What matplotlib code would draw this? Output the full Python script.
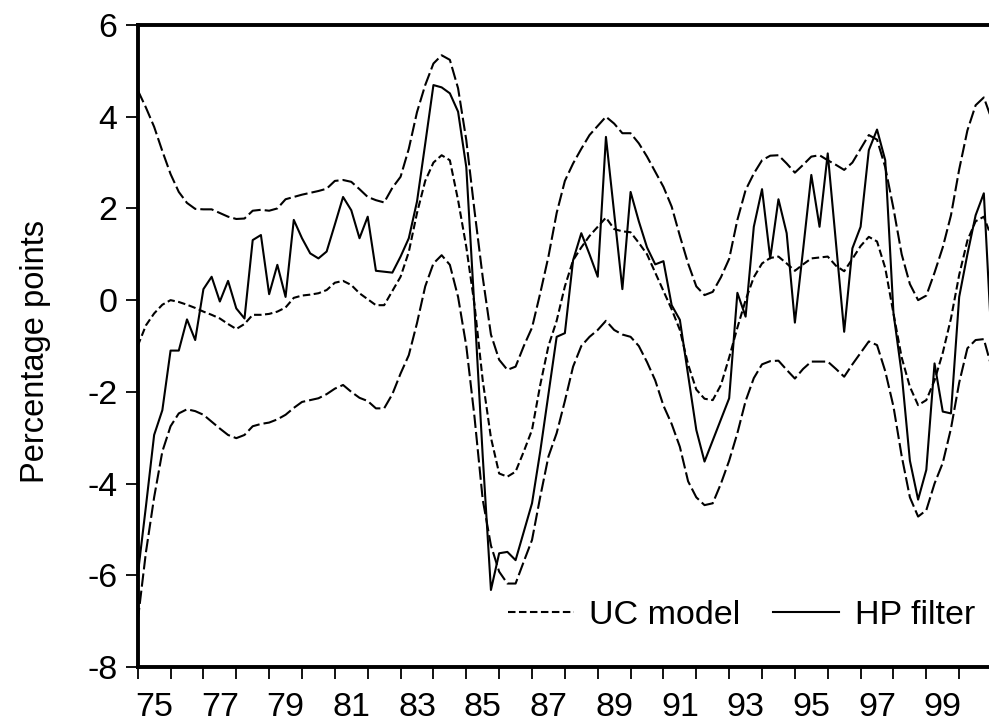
import matplotlib
matplotlib.use("Agg")
import matplotlib.pyplot as plt

plt.rcParams['font.family'] = ['Liberation Sans', 'DejaVu Sans']
plt.rcParams['axes.unicode_minus'] = False
plt.rcParams['lines.scale_dashes'] = False

# quarterly observations from 1975Q1 onwards (105 quarters)
start_year = 1975
n_quarters = 105

# UC model: upper band, estimate, lower band
uc_upper = [
    4.58, 4.2, 3.78, 3.25, 2.75, 2.36, 2.12, 1.99, 1.98, 1.98,
    1.9, 1.82, 1.77, 1.78, 1.95, 1.97, 1.95, 2.0, 2.2, 2.25,
    2.3, 2.34, 2.38, 2.43, 2.6, 2.62, 2.58, 2.42, 2.25, 2.18,
    2.13, 2.45, 2.69, 3.3, 4.1, 4.69, 5.16, 5.34, 5.24, 4.62,
    3.49, 1.95, 0.5, -0.75, -1.3, -1.52, -1.45, -1.0, -0.6, 0.15,
    0.95, 1.9, 2.6, 2.98, 3.3, 3.6, 3.8, 4.0, 3.85, 3.64,
    3.64, 3.42, 3.13, 2.8, 2.47, 2.04, 1.4, 0.8, 0.3, 0.11,
    0.18, 0.5, 0.9, 1.75, 2.4, 2.76, 3.05, 3.15, 3.16, 2.98,
    2.78, 2.95, 3.13, 3.16, 3.05, 2.95, 2.84, 3.0, 3.3, 3.6,
    3.5, 2.9, 2.0, 1.0, 0.35, 0.0, 0.1, 0.6, 1.15, 1.85,
    2.85, 3.7, 4.25, 4.42, 3.92,
]
uc_model = [
    -1.0, -0.55, -0.29, -0.1, 0.0, -0.04, -0.1, -0.17, -0.25, -0.32,
    -0.4, -0.52, -0.63, -0.52, -0.32, -0.32, -0.3, -0.25, -0.16, 0.05,
    0.1, 0.12, 0.15, 0.22, 0.38, 0.42, 0.33, 0.15, 0.02, -0.11,
    -0.11, 0.2, 0.51, 1.05, 1.9, 2.6, 3.0, 3.16, 3.05, 2.18,
    1.16, -0.1, -1.75, -3.0, -3.78, -3.85, -3.74, -3.3, -2.83, -1.85,
    -1.0, -0.45, 0.3, 0.87, 1.15, 1.4, 1.6, 1.8, 1.55, 1.5,
    1.48, 1.25, 1.0, 0.6, 0.2, -0.2, -0.65, -1.4, -1.95, -2.15,
    -2.18, -1.85, -1.25, -0.6, 0.0, 0.5, 0.8, 0.92, 0.95, 0.8,
    0.64, 0.78, 0.91, 0.93, 0.95, 0.75, 0.63, 0.9, 1.18, 1.38,
    1.28, 0.7, -0.29, -1.25, -1.89, -2.29, -2.18, -1.75, -1.15, -0.4,
    0.55, 1.3, 1.72, 1.82, 1.34,
]
uc_lower = [
    -7.0, -5.5, -4.3, -3.3, -2.75, -2.47, -2.38, -2.42, -2.5, -2.65,
    -2.8, -2.94, -3.01, -2.94, -2.75, -2.7, -2.67, -2.6, -2.5, -2.35,
    -2.22, -2.18, -2.14, -2.05, -1.93, -1.85, -2.0, -2.13, -2.2, -2.36,
    -2.36, -2.05, -1.6, -1.2, -0.5, 0.3, 0.8, 0.98, 0.77, 0.07,
    -1.0, -2.55, -4.35, -5.35, -5.92, -6.18, -6.18, -5.7, -5.23, -4.29,
    -3.41, -2.9, -2.2, -1.45, -1.0, -0.8, -0.65, -0.45, -0.65, -0.75,
    -0.8, -1.0, -1.35, -1.75, -2.3, -2.7, -3.2, -3.95, -4.3, -4.47,
    -4.43, -4.0, -3.5, -2.9, -2.2, -1.7, -1.4, -1.33, -1.32, -1.52,
    -1.71, -1.5, -1.34, -1.34, -1.34, -1.5, -1.67, -1.4, -1.15, -0.9,
    -0.98, -1.55, -2.32, -3.4, -4.3, -4.72, -4.58, -4.0, -3.55, -2.8,
    -1.8, -1.05, -0.87, -0.85, -1.5,
]
# HP filter output gap
hp_filter = [
    -6.0, -4.5, -2.94, -2.4, -1.1, -1.1, -0.42, -0.87, 0.24, 0.51,
    -0.03, 0.42, -0.18, -0.4, 1.31, 1.42, 0.13, 0.77, 0.07, 1.75,
    1.35, 1.02, 0.91, 1.06, 1.65, 2.25, 1.96, 1.35, 1.82, 0.64,
    0.62, 0.6, 0.95, 1.35, 2.15, 3.41, 4.69, 4.64, 4.51, 4.11,
    2.9, -0.2, -3.4, -6.32, -5.52, -5.49, -5.67, -5.05, -4.43, -3.3,
    -2.05, -0.8, -0.72, 0.87, 1.46, 1.0, 0.51, 3.56, 1.9, 0.24,
    2.36, 1.72, 1.15, 0.78, 0.85, -0.11, -0.43, -1.63, -2.83, -3.52,
    -3.06, -2.6, -2.14, 0.16, -0.36, 1.6, 2.42, 0.91, 2.2, 1.46,
    -0.49, 1.1, 2.73, 1.6, 3.2, 1.25, -0.69, 1.13, 1.6, 3.27,
    3.72, 3.05, -0.28, -1.6, -3.5, -4.35, -3.7, -1.38, -2.43, -2.47,
    0.07, 1.0, 1.85, 2.33, -1.1,
]

y_ticks = [-8, -6, -4, -2, 0, 2, 4, 6]
year_ticks = list(range(1975, 2001))
label_years = list(range(1975, 2000, 2))
x_labels = [str(y)[2:] for y in label_years]

dates = [start_year + q / 4 for q in range(n_quarters)]

fig = plt.figure(figsize=(9.89, 7.26), dpi=100)
ax = fig.add_axes([137.7 / 989, 1 - 667 / 726, 1 - 137.7 / 989, (667 - 25) / 726])

band_dash = (9.6, 2.9)
mid_dash = (5.4, 2.5)
lw = 1.5

ax.plot(dates, uc_upper, color='black', lw=lw, dashes=band_dash)
ax.plot(dates, uc_lower, color='black', lw=lw, dashes=band_dash)
ax.plot(dates, uc_model, color='black', lw=lw, dashes=mid_dash, label='UC model')
ax.plot(dates, hp_filter, color='black', lw=lw, label='HP filter')

ax.set_xlim(1975, 1975 + 103.63 / 4)
ax.set_ylim(-8, 6)

for side in ['left', 'top', 'bottom']:
    ax.spines[side].set_linewidth(2.8)
ax.spines['right'].set_visible(False)

ax.set_yticks(y_ticks)
ax.set_yticklabels([str(v) for v in y_ticks])
ax.tick_params(axis='y', direction='out', length=8.6, width=1.3, pad=6, labelsize=24.5)

ax.set_xticks(year_ticks)
ax.set_xticklabels([])
ax.set_xticks([y + 0.5 for y in label_years], minor=True)
ax.set_xticklabels(x_labels, minor=True)
ax.tick_params(axis='x', which='major', direction='out', length=8.6, width=1.3)
ax.tick_params(axis='x', which='minor', length=0, pad=18, labelsize=24.5)

fig.text(36 / 989, 1 - 351 / 726, 'Percentage points', rotation=90,
         ha='center', va='center', fontsize=23.5)

ax.legend(loc='center right', bbox_to_anchor=(975 / 989, 1 - 615 / 726),
          bbox_transform=fig.transFigure, ncol=2, frameon=False,
          fontsize=24.5, handlelength=1.95, handletextpad=0.45,
          columnspacing=0.96, borderpad=0, borderaxespad=0)

fig.savefig('out.png', dpi=100)
